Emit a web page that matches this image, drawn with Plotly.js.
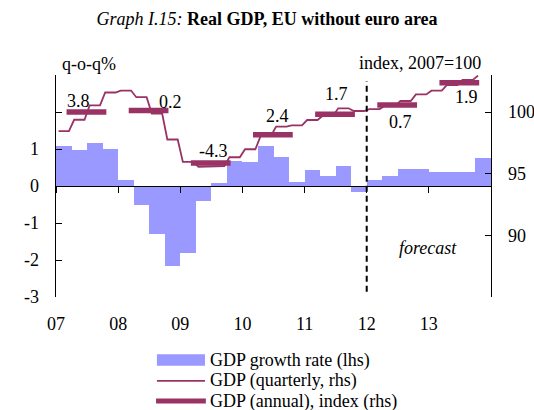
<!DOCTYPE html>
<html>
<head>
<meta charset="utf-8">
<script src="https://cdn.plot.ly/plotly-3.0.1.min.js"></script>
<style>html,body{margin:0;padding:0;background:#fff;}#chart{width:534px;height:410px;}</style>
</head>
<body>
<div id="chart"></div>
<script>
// ---- data ----
const startYear = 2007;
const yearTickLabels = ['07', '08', '09', '10', '11', '12', '13'];
// quarterly GDP growth rate, q-o-q % (lhs), 2007Q1 .. 2013Q4
const growthRate = [1.08, 0.98, 1.16, 1.00, 0.16, -0.51, -1.30, -2.16, -1.81, -0.41, 0.08, 0.68,
                    0.65, 1.08, 0.78, 0.11, 0.43, 0.27, 0.54, -0.15, 0.16, 0.27, 0.47, 0.47,
                    0.38, 0.38, 0.38, 0.76];
// quarterly GDP index, 2007=100 (rhs)
const gdpQuarterly = [98.45, 99.37, 100.54, 101.58, 101.74, 101.20, 99.88, 97.77, 95.95, 95.56, 95.62, 96.33,
                      96.98, 98.05, 98.82, 98.92, 99.35, 99.70, 100.30, 100.08, 100.24, 100.50, 100.89, 101.43,
                      101.73, 102.19, 102.60, 102.95];
// annual GDP index, 2007=100 (rhs) and annual growth labels
const annualYears = [2007, 2008, 2009, 2010, 2011, 2012, 2013];
const gdpAnnual = [100.0, 100.12, 95.86, 98.15, 99.82, 100.57, 102.38];
const annualGrowthLabels = ['3.8', '0.2', '-4.3', '2.4', '1.7', '0.7', '1.9'];
const forecastStart = 2012;
const legendNames = ['GDP growth rate (lhs)', 'GDP (quarterly, rhs)', 'GDP (annual), index (rhs)'];

// ---- styles ----
const FONT = 'Liberation Serif, Times New Roman, serif';
const barColor = '#9999ff';
const lineColor = '#993366';
const TXT = {family: FONT, size: 18, color: '#000'};

// bar positions derived from quarter index
const qx = growthRate.map((_, i) => startYear + i * 0.25 + 0.125);

// quarterly line drawn as monthly steps (value held over the quarter's months)
const lineX = [], lineY = [];
gdpQuarterly.forEach((v, i) => {
  const months = (i === gdpQuarterly.length - 1) ? 1 : 3;
  for (let k = 0; k < months; k++) {
    lineX.push(startYear + i * 0.25 + (k + 0.5) / 12);
    lineY.push(v);
  }
});

// annual segments
const annX = [], annY = [];
annualYears.forEach((yr, i) => {
  annX.push(yr + 0.17, yr + 0.81, null);
  annY.push(gdpAnnual[i], gdpAnnual[i], null);
});

// label offsets (positioning only)
const labelPos = [
  [0.37, 0.93], [0.85, 0.73], [0.53, 0.98], [0.57, 1.53],
  [0.51, 1.64], [0.54, -1.42], [0.60, -1.20]
];

const traces = [
  {type: 'bar', x: qx, y: growthRate, width: 0.25, marker: {color: barColor, line: {width: 0}},
   name: legendNames[0], xaxis: 'x', yaxis: 'y', hoverinfo: 'skip'},
  {type: 'scatter', mode: 'lines', x: lineX, y: lineY, name: legendNames[1],
   line: {color: lineColor, width: 1.8}, xaxis: 'x', yaxis: 'y2'},
  {type: 'scatter', mode: 'lines', x: annX, y: annY, name: legendNames[2],
   line: {color: lineColor, width: 5.5}, connectgaps: false, xaxis: 'x', yaxis: 'y2'},
  {type: 'scatter', mode: 'lines', x: [startYear], y: [0], hoverinfo: 'skip',
   line: {width: 0}, xaxis: 'x2', yaxis: 'y'}
];

const annotations = annualGrowthLabels.map((t, i) => ({
  text: t, x: annualYears[i] + labelPos[i][0], y: gdpAnnual[i] + labelPos[i][1],
  xref: 'x', yref: 'y2', showarrow: false, xanchor: 'center', yanchor: 'middle', font: TXT
}));
annotations.push(
  {text: '<i>forecast</i>', x: 2012.98, y: 88.97, xref: 'x', yref: 'y2', showarrow: false,
   xanchor: 'center', yanchor: 'middle', font: TXT},
  {text: 'q-o-q%', x: 0.076, y: 1.05, xref: 'paper', yref: 'paper', showarrow: false,
   xanchor: 'center', yanchor: 'middle', font: TXT},
  {text: 'index, 2007=100', x: 0.837, y: 1.054, xref: 'paper', yref: 'paper', showarrow: false,
   xanchor: 'center', yanchor: 'middle', font: TXT}
);

// manual legend (paper coordinates)
const legX0 = 0.232, legX1 = 0.3425, legTextX = 0.349;
const legRowY = [-0.284, -0.378, -0.4685];
legendNames.forEach((n, i) => annotations.push({
  text: n, x: legTextX, y: legRowY[i], xref: 'paper', yref: 'paper', showarrow: false,
  xanchor: 'left', yanchor: 'middle', font: TXT
}));

const shapes = [
  {type: 'line', xref: 'x', yref: 'y', x0: forecastStart, x1: forecastStart, y0: -2.86, y1: 2.83,
   line: {color: '#000', width: 2, dash: '6px,4px'}},
  {type: 'rect', xref: 'paper', yref: 'paper', x0: legX0, x1: legX1, y0: legRowY[0] - 0.026, y1: legRowY[0] + 0.026,
   fillcolor: barColor, line: {width: 0}},
  {type: 'line', xref: 'paper', yref: 'paper', x0: legX0, x1: legX1, y0: legRowY[1], y1: legRowY[1],
   line: {color: lineColor, width: 1.8}},
  {type: 'line', xref: 'paper', yref: 'paper', x0: legX0 - 0.002, x1: legX1 + 0.002, y0: legRowY[2], y1: legRowY[2],
   line: {color: lineColor, width: 5}}
];

const years = yearTickLabels.map((_, i) => startYear + i);

const layout = {
  width: 534, height: 410,
  margin: {l: 56, r: 43, t: 75, b: 113, pad: 0, autoexpand: false},
  paper_bgcolor: '#fff', plot_bgcolor: '#fff',
  font: TXT,
  title: {text: '<i>Graph I.15:</i> <b>Real GDP, EU without euro area</b>',
          x: 0.5, xref: 'container', xanchor: 'center', y: 0.954, yref: 'container', yanchor: 'middle',
          font: TXT},
  bargap: 0,
  showlegend: false,
  xaxis: {range: [startYear, startYear + 7], tickvals: years, ticktext: yearTickLabels,
          showline: false, ticks: '', showgrid: false, zeroline: false, ticklabelstandoff: 14},
  xaxis2: {overlaying: 'x', anchor: 'free', position: 0.5, range: [startYear, startYear + 7],
           tickvals: years.concat([startYear + 7]), ticks: 'outside', ticklen: 6, tickcolor: '#000',
           showticklabels: false, showline: true, linecolor: '#000', linewidth: 1.3,
           showgrid: false, zeroline: false, side: 'bottom'},
  yaxis: {range: [-3, 3], tickvals: [-3, -2, -1, 0, 1, 2], ticktext: ['-3', '-2', '-1', '0', '1', ''],
          ticks: 'inside', ticklen: 6, tickcolor: '#000', showline: true, linecolor: '#000', linewidth: 1.3,
          showgrid: false, zeroline: false, ticklabelstandoff: 12},
  yaxis2: {range: [85, 103], overlaying: 'y', side: 'right', anchor: 'x',
           tickvals: [85, 90, 95, 100], ticktext: ['', '90', '95', '100'],
           ticks: 'inside', ticklen: 6, tickcolor: '#000', showline: true, linecolor: '#000', linewidth: 1.3,
           showgrid: false, zeroline: false, ticklabelstandoff: 12},
  shapes: shapes,
  annotations: annotations
};

Plotly.newPlot('chart', traces, layout, {displayModeBar: false, staticPlot: true});
</script>
</body>
</html>
